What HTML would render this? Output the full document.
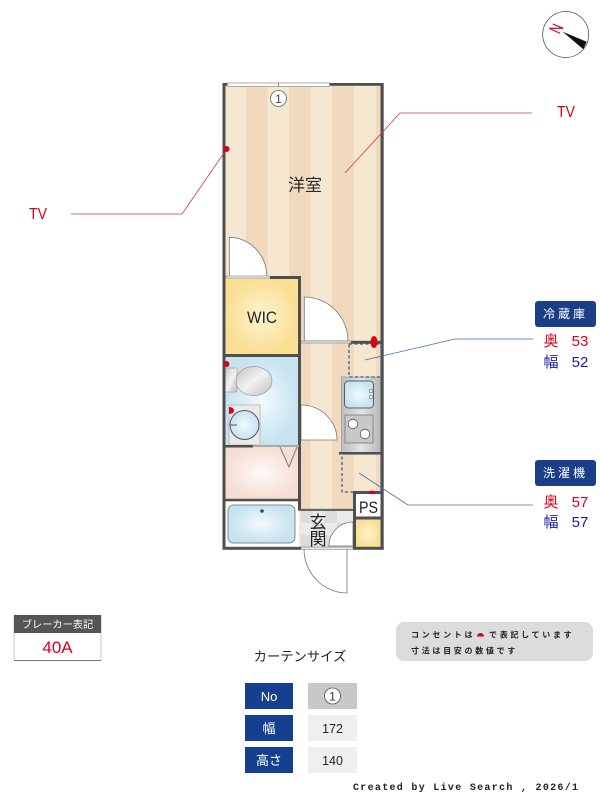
<!DOCTYPE html>
<html lang="ja"><head><meta charset="utf-8"><title>間取り図</title>
<style>html,body{margin:0;padding:0;background:#fff;width:600px;height:800px;overflow:hidden}svg{display:block}
text{font-family:"Liberation Sans","Noto Sans CJK JP",sans-serif}</style></head><body>
<svg width="600" height="800" viewBox="0 0 600 800" xmlns="http://www.w3.org/2000/svg">
<defs>
<radialGradient id="y"><stop offset="0" stop-color="#fff4cf"/><stop offset="1" stop-color="#f9de94"/></radialGradient>
<radialGradient id="b"><stop offset="0" stop-color="#f2fafd"/><stop offset="1" stop-color="#c6e3ef"/></radialGradient>
<radialGradient id="p"><stop offset="0" stop-color="#fdf9f6"/><stop offset="1" stop-color="#f6dfd2"/></radialGradient>
<linearGradient id="g" x1="0" y1="0" x2="1" y2="1"><stop offset="0" stop-color="#c2c2c2"/><stop offset=".5" stop-color="#f2f2f2"/><stop offset="1" stop-color="#bdbdbd"/></linearGradient>
<linearGradient id="k" x1="0" y1="0" x2="1" y2="0"><stop offset="0" stop-color="#bdbdbd"/><stop offset=".5" stop-color="#e4e4e4"/><stop offset="1" stop-color="#b5b5b5"/></linearGradient>
</defs>
<!-- floor -->
<rect x="225" y="85" width="156" height="462" fill="#f6e8d0"/>
<g fill="#f0d9bc"><rect x="246" y="85" width="21.5" height="425"/><rect x="289" y="85" width="21.5" height="425"/><rect x="332" y="85" width="22" height="425"/><rect x="376" y="85" width="5" height="425"/></g>
<!-- WIC -->
<rect x="225" y="278" width="74" height="76" fill="url(#y)"/>
<!-- wash / toilet -->
<rect x="225" y="357" width="74" height="88" fill="url(#b)"/>
<rect x="225" y="447" width="74" height="52" fill="url(#p)"/>
<rect x="225" y="501" width="74" height="46" fill="#fff"/>
<rect x="228" y="505" width="67" height="38" rx="6" fill="url(#b)" stroke="#7f8a8e" stroke-width="1"/>
<circle cx="262" cy="511" r="1.8" fill="#40484c"/>
<path d="M280 447L289 467L297 447" fill="none" stroke="#8a8a8a" stroke-width="1.2"/>
<!-- toilet -->
<rect x="225" y="368" width="12" height="24" fill="url(#g)" stroke="#999" stroke-width=".6"/>
<ellipse cx="254" cy="381" rx="18" ry="14.5" fill="url(#g)" stroke="#999" stroke-width=".7"/>
<!-- basin -->
<rect x="229" y="405" width="31" height="40" fill="#eeeaea" stroke="#aaa" stroke-width=".7"/>
<circle cx="244.5" cy="425" r="14.5" fill="url(#b)" stroke="#4e5a60" stroke-width="1"/>
<path d="M230 425H237" stroke="#555" stroke-width="1"/>
<!-- genkan -->
<rect x="301" y="511" width="52" height="36" fill="#eaeaea"/>
<g fill="#dcdcdc"><rect x="301" y="511" width="12" height="12"/><rect x="325" y="511" width="12" height="12"/><rect x="313" y="523" width="12" height="12"/><rect x="337" y="523" width="16" height="12"/><rect x="301" y="535" width="12" height="12"/><rect x="325" y="535" width="12" height="12"/></g>
<path d="M353 522A24 24 0 0 0 329 546H353Z" fill="#fff" stroke="#777" stroke-width=".8"/>
<!-- PS + yellow -->
<rect x="355" y="494" width="26" height="24" fill="#fff"/>
<rect x="355" y="519" width="26" height="28" fill="url(#y)"/>
<!-- kitchen -->
<rect x="341.5" y="377" width="40" height="76" fill="url(#k)" stroke="#999" stroke-width=".7"/>
<rect x="344.5" y="381" width="29" height="27" rx="4" fill="url(#b)" stroke="#4f6268" stroke-width="1"/>
<circle cx="371" cy="391" r="1.8" fill="#eee" stroke="#666" stroke-width=".6"/><circle cx="371" cy="397" r="1.8" fill="#eee" stroke="#666" stroke-width=".6"/>
<rect x="345" y="415" width="28" height="28" fill="#c8c8c8" stroke="#777" stroke-width=".8"/>
<circle cx="353" cy="424" r="4.8" fill="#fff" stroke="#555" stroke-width=".8"/><circle cx="365" cy="434" r="4.8" fill="#fff" stroke="#555" stroke-width=".8"/>
<!-- doors -->
<path d="M229.3 237.300A37.500 39.500 0 0 1 266.800 276.800H229.300Z" fill="#fff" stroke="#777" stroke-width=".8"/>
<rect x="226" y="276" width="44" height="2" fill="#eee" stroke="#888" stroke-width=".6"/>
<path d="M304.300 297A44 44 0 0 1 348 341H304.300Z" fill="#fff" stroke="#777" stroke-width=".8"/>
<path d="M301 405A36 35 0 0 1 337 440H301Z" fill="#fff" stroke="#777" stroke-width=".8"/>
<path d="M347 549V593A43 44 0 0 1 304 549" fill="#fff" stroke="#777" stroke-width=".8"/>
<!-- walls -->
<g fill="#4f4f4f">
<rect x="222.500" y="83" width="3" height="466.500"/>
<rect x="380.500" y="83" width="3.200" height="466.500"/>
<rect x="222.500" y="83" width="161" height="2.800"/>
<rect x="222.500" y="546.800" width="78.500" height="3"/>
<rect x="353" y="546.800" width="30.700" height="3"/>
<rect x="270" y="276" width="31" height="3"/>
<rect x="222.500" y="278" width="3" height="2"/>
<rect x="222.500" y="354" width="78.500" height="3"/>
<rect x="298" y="276" width="3" height="234.500"/>
<rect x="351" y="340.800" width="31" height="3"/>
<rect x="222.500" y="445" width="30.500" height="2.500"/>
<rect x="253" y="445" width="46" height="2" fill="#aaa"/>
<rect x="222.500" y="498.800" width="78.500" height="2.500"/>
<rect x="299" y="508.800" width="56" height="2.200" fill="#666"/>
<rect x="339" y="452" width="43" height="2.500"/>
<rect x="353" y="491" width="3" height="58"/>
<rect x="353" y="491" width="30" height="3"/>
<rect x="353" y="516.500" width="30" height="3"/>
</g>
<rect x="301" y="341" width="50" height="2" fill="#eee" stroke="#777" stroke-width=".6"/>
<rect x="301" y="547" width="52" height="2.200" fill="#eee" stroke="#777" stroke-width=".6"/>
<!-- window -->
<rect x="227.500" y="83" width="102" height="3.500" fill="#fff" stroke="#999" stroke-width=".8"/>
<path d="M278.500 83V86.500" stroke="#666" stroke-width=".8"/>
<circle cx="278.500" cy="98.500" r="8" fill="#fff" stroke="#666" stroke-width=".8"/>
<text x="278.500" y="103" font-size="12" text-anchor="middle" fill="#444">1</text>
<!-- dashed -->
<g fill="none" stroke="#3a5a8c" stroke-width="1.300" stroke-dasharray="3 2.500">
<rect x="349" y="344" width="32" height="33"/>
<rect x="342" y="454" width="39" height="38"/>
</g>
<!-- outlets -->
<g fill="#d9001b">
<ellipse cx="226.500" cy="149" rx="3" ry="3"/>
<ellipse cx="374" cy="342" rx="3.500" ry="6"/>
<ellipse cx="226.500" cy="364" rx="3" ry="3"/>
<path d="M229 407a5 3.500 0 0 1 0 7z"/>
<path d="M368.500 494a3.500 3.500 0 0 1 7 0z"/>
</g>
<!-- leader lines -->
<g fill="none" stroke-width=".8">
<path d="M71 214H182L224 153" stroke="#c83a55"/>
<path d="M345 173L400 113H532" stroke="#c83a55"/>
<path d="M365 360L455 339H533" stroke="#4a6da5"/>
<path d="M359 473L408 505H533" stroke="#4a6da5"/>
</g>
<!-- room labels -->
<text x="288" y="191" font-size="17" textLength="34" lengthAdjust="spacingAndGlyphs" fill="#2a2a2a">洋室</text>
<text x="247" y="323" font-size="17" textLength="30" lengthAdjust="spacingAndGlyphs" fill="#222">WIC</text>
<text x="318" y="528" font-size="17" text-anchor="middle" fill="#222">玄</text>
<text x="318" y="545" font-size="17" text-anchor="middle" fill="#222">関</text>
<text x="359" y="513" font-size="17" textLength="19" lengthAdjust="spacingAndGlyphs" fill="#222">PS</text>
<text x="29" y="219" font-size="16" textLength="18" lengthAdjust="spacingAndGlyphs" fill="#d9001b">TV</text>
<text x="557" y="117" font-size="16" textLength="18" lengthAdjust="spacingAndGlyphs" fill="#d9001b">TV</text>
<!-- compass -->
<circle cx="565.700" cy="34.500" r="23" fill="#fff" stroke="#555" stroke-width=".8"/>
<path d="M552.700 24L563.300 28.300H549.300L560 33.300" fill="none" stroke="#c8213f" stroke-width="1.300"/>
<path d="M562.700 31.700L586.700 41.700L583.300 49.300Z" fill="#111"/>
<!-- fridge / washer -->
<rect x="535" y="301" width="61" height="26" rx="3" fill="#1b3f87"/>
<text x="565.500" y="318" font-size="12" text-anchor="middle" fill="#fff" letter-spacing="3">冷蔵庫</text>
<text x="551" y="346" font-size="15" text-anchor="middle" fill="#d9001b">奥</text>
<text x="580" y="346" font-size="15" text-anchor="middle" fill="#d9001b">53</text>
<text x="551" y="367" font-size="15" text-anchor="middle" fill="#1a1aa8">幅</text>
<text x="580" y="367" font-size="15" text-anchor="middle" fill="#1a1aa8">52</text>
<rect x="535" y="460" width="61" height="26" rx="3" fill="#1b3f87"/>
<text x="565.500" y="477" font-size="12" text-anchor="middle" fill="#fff" letter-spacing="3">洗濯機</text>
<text x="551" y="507" font-size="15" text-anchor="middle" fill="#d9001b">奥</text>
<text x="580" y="507" font-size="15" text-anchor="middle" fill="#d9001b">57</text>
<text x="551" y="527" font-size="15" text-anchor="middle" fill="#1a1aa8">幅</text>
<text x="580" y="527" font-size="15" text-anchor="middle" fill="#1a1aa8">57</text>
<!-- breaker -->
<rect x="14" y="615.500" width="87" height="45" fill="#fff" stroke="#bbb" stroke-width=".8"/>
<rect x="14" y="615" width="87" height="18" fill="#555"/>
<path d="M14 660.500H101" stroke="#777" stroke-width="1"/>
<text x="57.500" y="628" font-size="10.200" text-anchor="middle" fill="#fff">ブレーカー表記</text>
<text x="57.500" y="653" font-size="17" text-anchor="middle" fill="#d9001b">40A</text>
<!-- note -->
<rect x="396" y="622" width="197" height="39" rx="8" fill="#dcdcdc"/>
<text x="411" y="637.500" font-size="8" font-weight="bold" fill="#222" letter-spacing="2.700">コンセントは</text>
<path d="M477 637a3.500 3.500 0 0 1 7 0z" fill="#d9001b" transform="translate(0 -.5)"/>
<text x="489" y="637.500" font-size="8" font-weight="bold" fill="#222" letter-spacing="2.700">で表記しています</text>
<text x="411" y="653.500" font-size="8" font-weight="bold" fill="#222" letter-spacing="2.700">寸法は目安の数値です</text>
<!-- curtain -->
<text x="300" y="661" font-size="13.300" text-anchor="middle" fill="#222">カーテンサイズ</text>
<g fill="#15408f"><rect x="245" y="683" width="48" height="26"/><rect x="245" y="715" width="48" height="26"/><rect x="245" y="747" width="48" height="26"/></g>
<rect x="308" y="683" width="49" height="26" fill="#c8c8c8"/><rect x="308" y="715" width="49" height="26" fill="#efefef"/><rect x="308" y="747" width="49" height="26" fill="#efefef"/>
<text x="269" y="701" font-size="13" text-anchor="middle" fill="#fff">No</text>
<text x="269" y="733" font-size="13" text-anchor="middle" fill="#fff">幅</text>
<text x="269" y="765" font-size="13" text-anchor="middle" fill="#fff">高さ</text>
<circle cx="332.500" cy="696" r="8" fill="#fff" stroke="#555" stroke-width=".8"/>
<text x="332.500" y="700.500" font-size="12" text-anchor="middle" fill="#333">1</text>
<text x="332.500" y="733" font-size="12.500" text-anchor="middle" fill="#222">172</text>
<text x="332.500" y="765" font-size="12.500" text-anchor="middle" fill="#222">140</text>
<!-- footer -->
<text x="353" y="790" style="font-family:'Liberation Mono',monospace" font-size="10" font-weight="bold" fill="#222" letter-spacing="1.300">Created by Live Search , 2026/1</text>
</svg>
</body></html>
